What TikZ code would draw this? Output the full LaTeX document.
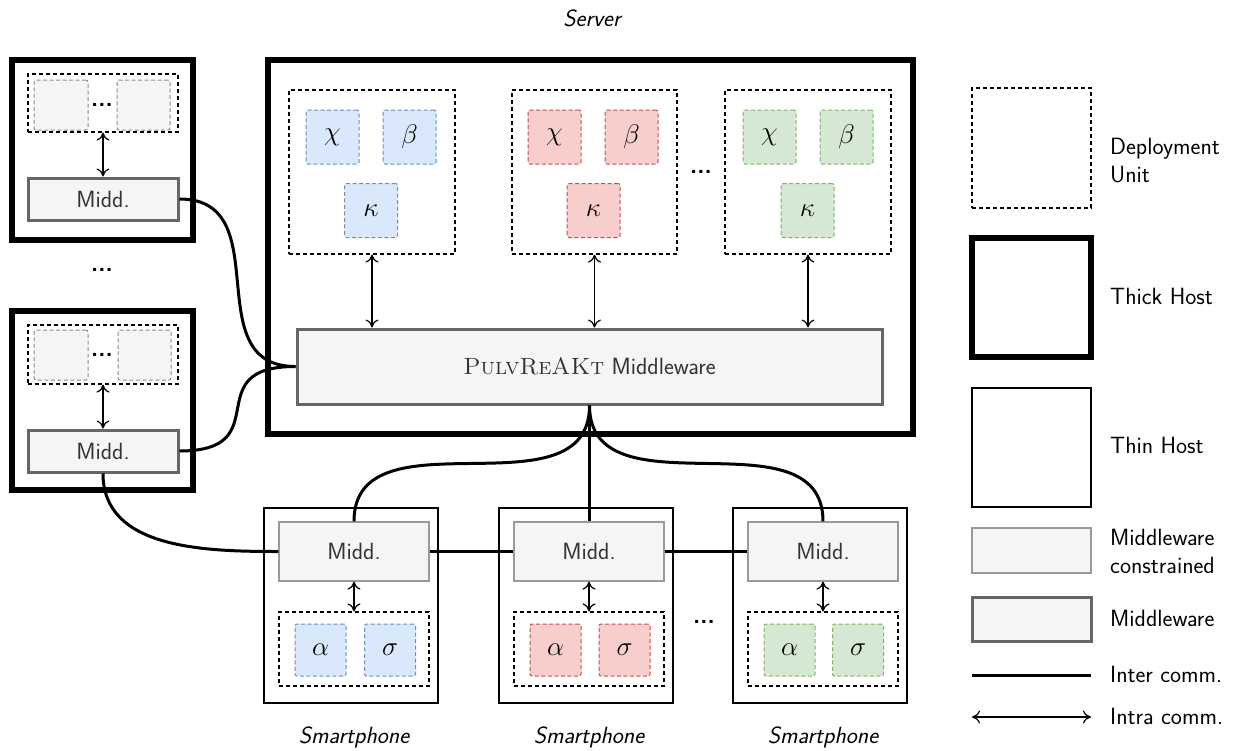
\RequirePackage{fix-cm}
\documentclass[tikz,border=0pt]{standalone}
\usepackage{fontspec}
\usetikzlibrary{arrows.meta}
\renewcommand{\familydefault}{\sfdefault}

\definecolor{mwfill}{HTML}{F5F5F5}
\definecolor{mwedge}{HTML}{666666}
\definecolor{mwedgelight}{HTML}{9A9A9A}
\definecolor{bluefill}{HTML}{DAE8FC}
\definecolor{blueedge}{HTML}{6C8EBF}
\definecolor{redfill}{HTML}{F8CECC}
\definecolor{rededge}{HTML}{B85450}
\definecolor{greenfill}{HTML}{D5E8D4}
\definecolor{greenedge}{HTML}{82B366}
\definecolor{greyedge}{HTML}{8C8C8C}

\tikzset{
  every node/.style={font=\fontsize{23.5}{28}\selectfont},
  thickhost/.style={draw, line width=6pt, fill=white},
  thinhost/.style={draw, line width=1.3pt, fill=white},
  unitbox/.style={draw, line width=1.2pt, dash pattern=on 4pt off 3pt},
  svc/.style={draw, line width=1pt, dash pattern=on 4pt off 2.5pt, rounded corners=2pt,
              minimum width=53pt, minimum height=54pt, inner sep=0pt,
              font=\fontsize{27}{28}\selectfont},
  bluesvc/.style={svc, fill=bluefill, draw=blueedge},
  redsvc/.style={svc, fill=redfill, draw=rededge},
  greensvc/.style={svc, fill=greenfill, draw=greenedge},
  greysvc/.style={svc, fill=mwfill, draw=greyedge, minimum height=50pt},
  mwbox/.style={draw=mwedge, line width=3pt, fill=mwfill, text=black!80, inner sep=0pt},
  mwlight/.style={draw=mwedgelight, line width=1.2pt, fill=mwfill, text=black!80, inner sep=0pt},
  inter/.style={line width=3pt},
  intra/.style={line width=1.2pt,
    {Computer Modern Rightarrow[length=8pt,width=13pt]}-{Computer Modern Rightarrow[length=8pt,width=13pt]}},
  dotsnode/.style={font=\fontsize{23.5}{28}\selectfont\bfseries, inner sep=0pt},
  legendtext/.style={anchor=west, align=left, inner sep=0pt},
  caption/.style={font=\fontsize{23.5}{28}\selectfont\itshape}
}

\begin{document}
\begin{tikzpicture}[x=1pt, y=-1pt]
\useasboundingbox (0,0) rectangle (1237,750);

% ---------- server ----------
\node[caption] (servername) at (592,18) {Server};
\node[thickhost, minimum width=645pt, minimum height=374pt] (server) at (590.5,247) {};

\node[unitbox, minimum width=166pt, minimum height=164pt] (du1) at (372,172) {};
\node[unitbox, minimum width=165pt, minimum height=164pt] (du2) at (594.5,172) {};
\node[unitbox, minimum width=166pt, minimum height=164pt] (du3) at (808,172) {};
\node[dotsnode] (sdots) at (701,172) {...};

\node[bluesvc] (chi1) at (332.5,137) {$\chi$};
\node[bluesvc] (beta1) at (409.5,137) {$\beta$};
\node[bluesvc] (kappa1) at (371,210.5) {$\kappa$};
\node[redsvc] (chi2) at (554.5,137) {$\chi$};
\node[redsvc] (beta2) at (631.5,137) {$\beta$};
\node[redsvc] (kappa2) at (593.5,210.5) {$\kappa$};
\node[greensvc] (chi3) at (769.5,137) {$\chi$};
\node[greensvc] (beta3) at (846.5,137) {$\beta$};
\node[greensvc] (kappa3) at (807.5,210.5) {$\kappa$};

\node[mwbox, minimum width=585pt, minimum height=75pt] (mw) at (589.5,366.5)
  {\textrm{\textsc{PulvReAKt}} Middleware};

\draw[intra] (du1.south) -- (du1.south |- mw.north);
\draw[intra] (du2.south) -- (du2.south |- mw.north);
\draw[intra] (du3.south) -- (du3.south |- mw.north);

% ---------- thick hosts on the left ----------
\node[thickhost, minimum width=181pt, minimum height=180pt] (hostA) at (102.5,150) {};
\node[unitbox, minimum width=150pt, minimum height=58pt] (duA) at (103,103) {};
\node[greysvc, minimum width=54pt] (gA1) at (61,105) {};
\node[greysvc] (gA2) at (143.5,105) {};
\node[dotsnode] (dotsA) at (102,105) {...};
\node[mwbox, minimum width=150pt, minimum height=42pt] (mA) at (103,199) {Midd.};
\draw[intra] (duA.south) -- (mA.north);

\node[dotsnode] (hdots) at (102,270) {...};

\node[thickhost, minimum width=181pt, minimum height=179pt] (hostB) at (102.5,400.5) {};
\node[unitbox, minimum width=150pt, minimum height=59pt] (duB) at (103,354.5) {};
\node[greysvc, minimum width=54pt] (gB1) at (61,355) {};
\node[greysvc] (gB2) at (144.5,355) {};
\node[dotsnode] (dotsB) at (102,355) {...};
\node[mwbox, minimum width=150pt, minimum height=42pt] (mB) at (103,451) {Midd.};
\draw[intra] (duB.south) -- (mB.north);

% ---------- smartphones ----------
\foreach \i/\hx/\ax/\sx/\kind in {1/351/320.5/390/bluesvc, 2/586/555.5/624.5/redsvc, 3/820/789.5/858/greensvc}{
  \node[thinhost, minimum width=174pt, minimum height=195pt] (phone\i) at (\hx,605.5) {};
  \node[mwlight, minimum width=150pt, minimum height=59pt] (sm\i) at (\hx+3,551.5) {Midd.};
  \node[unitbox, minimum width=150pt, minimum height=74pt] (sdu\i) at (\hx+3,649) {};
  \node[\kind, minimum width=51pt, minimum height=52pt] (alpha\i) at (\ax,650) {$\alpha$};
  \node[\kind, minimum width=51pt, minimum height=52pt] (sigma\i) at (\sx,650) {$\sigma$};
  \draw[intra] (sm\i.south) -- (sdu\i.north);
  \node[caption] (phonename\i) at (\hx+3,737) {Smartphone};
}
\node[dotsnode] (pdots) at (704,622) {...};

% ---------- inter-host links ----------
\draw[inter] (mA.east) .. controls +(100,0) and +(-100,0) .. (mw.west);
\draw[inter] (mB.east) .. controls +(100,0) and +(-100,0) .. (mw.west);
\draw[inter] (mB.south) to[out=-90, in=180] (sm1.west);
\draw[inter] (mw.south) to[out=-90, in=90, looseness=1.1] (sm1.north);
\draw[inter] (mw.south) -- (mw.south |- sm2.north);
\draw[inter] (mw.south) to[out=-90, in=90, looseness=1.1] (sm3.north);
\draw[inter] (sm1.east) -- (sm2.west);
\draw[inter] (sm2.east) -- (sm3.west);

% ---------- legend ----------
\node[unitbox, minimum width=119pt, minimum height=120pt] (lunit) at (1031.5,148) {};
\node[legendtext] (lunittext) at (1110,161) {Deployment\\Unit};
\node[thickhost, minimum width=119pt, minimum height=119pt] (lthick) at (1031.5,297.5) {};
\node[legendtext] (lthicktext) at (1110,296) {Thick Host};
\node[thinhost, minimum width=119pt, minimum height=119pt] (lthin) at (1031.5,447.5) {};
\node[legendtext] (lthintext) at (1110,445) {Thin Host};
\node[mwlight, minimum width=119pt, minimum height=45pt] (lmc) at (1031.5,550.5) {};
\node[legendtext] (lmctext) at (1110,551) {Middleware\\constrained};
\node[mwbox, minimum width=119pt, minimum height=44pt] (lmw) at (1031.5,619) {};
\node[legendtext] (lmwtext) at (1110,618) {Middleware};
\coordinate (linterA) at (972,675);
\coordinate (linterB) at (1091,675);
\draw[inter] (linterA) -- (linterB);
\node[legendtext] (lintertext) at (1110,674) {Inter comm.};
\coordinate (lintraA) at (972,717);
\coordinate (lintraB) at (1091,717);
\draw[intra] (lintraA) -- (lintraB);
\node[legendtext] (lintratext) at (1110,716) {Intra comm.};
\end{tikzpicture}
\end{document}
